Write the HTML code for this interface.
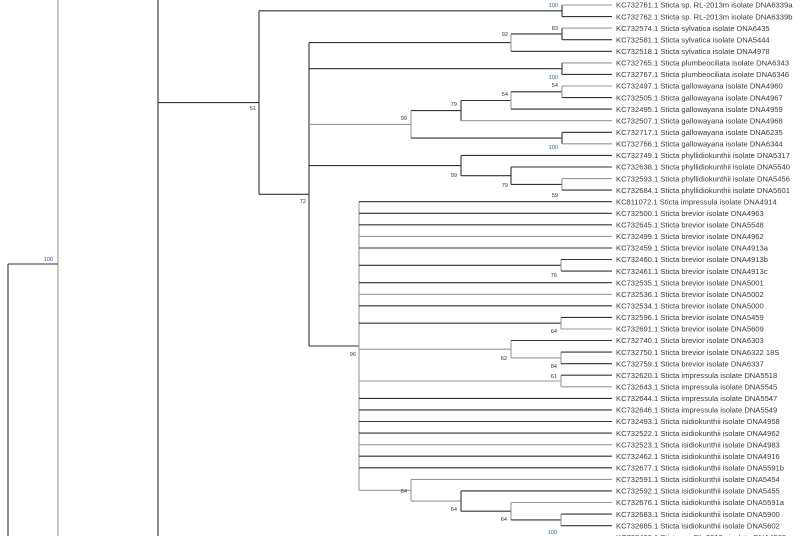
<!DOCTYPE html>
<html><head><meta charset="utf-8"><style>
html,body{margin:0;padding:0;background:#fff;width:812px;height:536px;overflow:hidden}
svg{display:block}
.t{font-family:"Liberation Sans",Arial,sans-serif;font-size:7.6px;fill:#3a3a3a}
.b{font-family:"Liberation Sans",Arial,sans-serif;font-size:5.6px;fill:#333;text-anchor:end}
.bb{font-family:"Liberation Sans",Arial,sans-serif;font-size:5.6px;fill:#2f5f9a;text-anchor:end}
line{stroke:#333;stroke-width:1.1}
.g{stroke:#999}
</style></head><body>
<svg width="812" height="536" viewBox="0 0 812 536" xmlns="http://www.w3.org/2000/svg">
<!-- deep ancestors -->
<line x1="8" y1="264" x2="8" y2="536"/>
<line x1="8" y1="264" x2="58" y2="264"/>
<line class="g" x1="58" y1="0" x2="58" y2="536"/>
<line x1="158" y1="0" x2="158" y2="536"/>
<line x1="158" y1="102.6" x2="259" y2="102.6"/>
<text class="bb" x="53" y="261">100</text>
<!-- N51 -->
<line x1="259" y1="10.8" x2="259" y2="194.3"/>
<line x1="259" y1="10.8" x2="562" y2="10.8"/>
<line x1="259" y1="194.3" x2="309" y2="194.3"/>
<text class="b" x="256" y="110">51</text>
<!-- Na -->
<line x1="562" y1="5" x2="562" y2="16.6"/>
<line class="g" x1="562" y1="5" x2="612" y2="5"/>
<line x1="562" y1="16.6" x2="612" y2="16.6"/>
<text class="bb" x="558" y="7">100</text>
<!-- N72 -->
<line x1="309" y1="42.6" x2="309" y2="346"/>
<line x1="309" y1="42.6" x2="511" y2="42.6"/>
<line x1="309" y1="68.7" x2="562" y2="68.7"/>
<line class="g" x1="309" y1="124.4" x2="411" y2="124.4"/>
<line x1="309" y1="165.6" x2="461" y2="165.6"/>
<line x1="309" y1="346" x2="359" y2="346"/>
<text class="b" x="306" y="203">72</text>
<!-- N92 -->
<line class="g" x1="511" y1="33.9" x2="511" y2="51.3"/>
<line x1="511" y1="33.9" x2="562" y2="33.9"/>
<line x1="511" y1="51.3" x2="612" y2="51.3"/>
<text class="b" x="508" y="36">92</text>
<line x1="562" y1="28.1" x2="562" y2="39.7"/>
<line class="g" x1="562" y1="28.1" x2="612" y2="28.1"/>
<line x1="562" y1="39.7" x2="612" y2="39.7"/>
<text class="b" x="558" y="30">83</text>
<!-- plumbeo -->
<line x1="562" y1="62.9" x2="562" y2="74.4"/>
<line class="g" x1="562" y1="62.9" x2="612" y2="62.9"/>
<line x1="562" y1="74.4" x2="612" y2="74.4"/>
<text class="bb" x="558" y="79">100</text>
<!-- gallowayana -->
<line class="g" x1="411" y1="110.6" x2="411" y2="138.1"/>
<line x1="411" y1="110.6" x2="461" y2="110.6"/>
<line x1="411" y1="138.1" x2="562" y2="138.1"/>
<text class="b" x="407" y="120">99</text>
<line x1="461" y1="100.5" x2="461" y2="120.7"/>
<line x1="461" y1="100.5" x2="511" y2="100.5"/>
<line class="g" x1="461" y1="120.7" x2="612" y2="120.7"/>
<text class="b" x="457" y="106">79</text>
<line class="g" x1="511" y1="91.8" x2="511" y2="109.1"/>
<line x1="511" y1="91.8" x2="562" y2="91.8"/>
<line x1="511" y1="109.1" x2="612" y2="109.1"/>
<text class="b" x="508" y="96">54</text>
<line class="g" x1="562" y1="86" x2="562" y2="97.6"/>
<line class="g" x1="562" y1="86" x2="612" y2="86"/>
<line x1="562" y1="97.6" x2="612" y2="97.6"/>
<text class="b" x="558" y="87">54</text>
<line x1="562" y1="132.3" x2="562" y2="143.8"/>
<line x1="562" y1="132.3" x2="612" y2="132.3"/>
<line class="g" x1="562" y1="143.8" x2="612" y2="143.8"/>
<text class="bb" x="558" y="149">100</text>
<!-- phyllidiokunthii -->
<line x1="461" y1="155.4" x2="461" y2="175.7"/>
<line x1="461" y1="155.4" x2="612" y2="155.4"/>
<line x1="461" y1="175.7" x2="511" y2="175.7"/>
<text class="b" x="457" y="177">99</text>
<line x1="511" y1="167" x2="511" y2="184.4"/>
<line x1="511" y1="167" x2="612" y2="167"/>
<line x1="511" y1="184.4" x2="562" y2="184.4"/>
<text class="b" x="508" y="187">79</text>
<line class="g" x1="562" y1="178.6" x2="562" y2="190.1"/>
<line class="g" x1="562" y1="178.6" x2="612" y2="178.6"/>
<line x1="562" y1="190.1" x2="612" y2="190.1"/>
<text class="b" x="558" y="197">59</text>
<!-- N96 -->
<line class="g" x1="359" y1="201.7" x2="359" y2="490.3"/>
<text class="b" x="356" y="356">96</text>
<line x1="359" y1="201.7" x2="612" y2="201.7"/>
<line x1="359" y1="213.3" x2="612" y2="213.3"/>
<line x1="359" y1="224.8" x2="612" y2="224.8"/>
<line class="g" x1="359" y1="236.4" x2="612" y2="236.4"/>
<line x1="359" y1="248" x2="612" y2="248"/>
<line x1="359" y1="265.3" x2="561" y2="265.3"/>
<line class="g" x1="561" y1="259.5" x2="561" y2="271.1"/>
<line x1="561" y1="259.5" x2="612" y2="259.5"/>
<line x1="561" y1="271.1" x2="612" y2="271.1"/>
<text class="b" x="557" y="277">76</text>
<line x1="359" y1="282.7" x2="612" y2="282.7"/>
<line class="g" x1="359" y1="294.3" x2="612" y2="294.3"/>
<line x1="359" y1="305.8" x2="612" y2="305.8"/>
<line x1="359" y1="323.2" x2="561" y2="323.2"/>
<line class="g" x1="561" y1="317.4" x2="561" y2="329"/>
<line x1="561" y1="317.4" x2="612" y2="317.4"/>
<line class="g" x1="561" y1="329" x2="612" y2="329"/>
<text class="b" x="557" y="333">64</text>
<line class="g" x1="359" y1="349.2" x2="511" y2="349.2"/>
<line class="g" x1="511" y1="340.5" x2="511" y2="357.9"/>
<line x1="511" y1="340.5" x2="612" y2="340.5"/>
<line class="g" x1="511" y1="357.9" x2="561" y2="357.9"/>
<text class="b" x="507" y="360">62</text>
<line class="g" x1="561" y1="352.1" x2="561" y2="363.7"/>
<line x1="561" y1="352.1" x2="612" y2="352.1"/>
<line x1="561" y1="363.7" x2="612" y2="363.7"/>
<text class="b" x="557" y="368">84</text>
<line class="g" x1="359" y1="381" x2="561" y2="381"/>
<line class="g" x1="561" y1="375.2" x2="561" y2="386.8"/>
<line x1="561" y1="375.2" x2="612" y2="375.2"/>
<line class="g" x1="561" y1="386.8" x2="612" y2="386.8"/>
<text class="b" x="557" y="378">61</text>
<line x1="359" y1="398.4" x2="612" y2="398.4"/>
<line x1="359" y1="409.9" x2="612" y2="409.9"/>
<line x1="359" y1="421.5" x2="612" y2="421.5"/>
<line x1="359" y1="433.1" x2="612" y2="433.1"/>
<line class="g" x1="359" y1="444.7" x2="612" y2="444.7"/>
<line x1="359" y1="456.2" x2="612" y2="456.2"/>
<line x1="359" y1="467.8" x2="612" y2="467.8"/>
<line class="g" x1="359" y1="490.3" x2="411" y2="490.3"/>
<line class="g" x1="411" y1="479.4" x2="411" y2="501.1"/>
<line class="g" x1="411" y1="479.4" x2="612" y2="479.4"/>
<line class="g" x1="411" y1="501.1" x2="461" y2="501.1"/>
<text class="b" x="407" y="493">64</text>
<line x1="461" y1="490.9" x2="461" y2="511.2"/>
<line x1="461" y1="490.9" x2="612" y2="490.9"/>
<line x1="461" y1="511.2" x2="511" y2="511.2"/>
<text class="b" x="457" y="511">64</text>
<line class="g" x1="511" y1="502.5" x2="511" y2="519.9"/>
<line class="g" x1="511" y1="502.5" x2="612" y2="502.5"/>
<line x1="511" y1="519.9" x2="561" y2="519.9"/>
<text class="b" x="507" y="521">64</text>
<line class="g" x1="561" y1="514.1" x2="561" y2="525.7"/>
<line x1="561" y1="514.1" x2="612" y2="514.1"/>
<line x1="561" y1="525.7" x2="612" y2="525.7"/>
<text class="bb" x="557" y="534">100</text>
<line x1="461" y1="536.5" x2="612" y2="536.5"/>

<g class="t">
<text x="616" y="7.7">KC732761.1 Sticta sp. RL-2013m isolate DNA6339a</text>
<text x="616" y="19.3">KC732762.1 Sticta sp. RL-2013m isolate DNA6339b</text>
<text x="616" y="30.8">KC732574.1 Sticta sylvatica isolate DNA6435</text>
<text x="616" y="42.4">KC732581.1 Sticta sylvatica isolate DNA5444</text>
<text x="616" y="54">KC732518.1 Sticta sylvatica isolate DNA4978</text>
<text x="616" y="65.6">KC732765.1 Sticta plumbeociliata isolate DNA6343</text>
<text x="616" y="77.1">KC732767.1 Sticta plumbeociliata isolate DNA6346</text>
<text x="616" y="88.7">KC732497.1 Sticta gallowayana isolate DNA4960</text>
<text x="616" y="100.3">KC732505.1 Sticta gallowayana isolate DNA4967</text>
<text x="616" y="111.8">KC732495.1 Sticta gallowayana isolate DNA4959</text>
<text x="616" y="123.4">KC732507.1 Sticta gallowayana isolate DNA4968</text>
<text x="616" y="135">KC732717.1 Sticta gallowayana isolate DNA6235</text>
<text x="616" y="146.5">KC732766.1 Sticta gallowayana isolate DNA6344</text>
<text x="616" y="158.1">KC732749.1 Sticta phyllidiokunthii isolate DNA5317</text>
<text x="616" y="169.7">KC732638.1 Sticta phyllidiokunthii isolate DNA5540</text>
<text x="616" y="181.3">KC732593.1 Sticta phyllidiokunthii isolate DNA5456</text>
<text x="616" y="192.8">KC732684.1 Sticta phyllidiokunthii isolate DNA5601</text>
<text x="616" y="204.4">KC811072.1 Sticta impressula isolate DNA4914</text>
<text x="616" y="216">KC732500.1 Sticta brevior isolate DNA4963</text>
<text x="616" y="227.5">KC732645.1 Sticta brevior isolate DNA5548</text>
<text x="616" y="239.1">KC732499.1 Sticta brevior isolate DNA4962</text>
<text x="616" y="250.7">KC732459.1 Sticta brevior isolate DNA4913a</text>
<text x="616" y="262.2">KC732460.1 Sticta brevior isolate DNA4913b</text>
<text x="616" y="273.8">KC732461.1 Sticta brevior isolate DNA4913c</text>
<text x="616" y="285.4">KC732535.1 Sticta brevior isolate DNA5001</text>
<text x="616" y="297">KC732536.1 Sticta brevior isolate DNA5002</text>
<text x="616" y="308.5">KC732534.1 Sticta brevior isolate DNA5000</text>
<text x="616" y="320.1">KC732596.1 Sticta brevior isolate DNA5459</text>
<text x="616" y="331.7">KC732691.1 Sticta brevior isolate DNA5609</text>
<text x="616" y="343.2">KC732740.1 Sticta brevior isolate DNA6303</text>
<text x="616" y="354.8">KC732750.1 Sticta brevior isolate DNA6322 18S</text>
<text x="616" y="366.4">KC732759.1 Sticta brevior isolate DNA6337</text>
<text x="616" y="377.9">KC732620.1 Sticta impressula isolate DNA5518</text>
<text x="616" y="389.5">KC732643.1 Sticta impressula isolate DNA5545</text>
<text x="616" y="401.1">KC732644.1 Sticta impressula isolate DNA5547</text>
<text x="616" y="412.6">KC732646.1 Sticta impressula isolate DNA5549</text>
<text x="616" y="424.2">KC732493.1 Sticta isidiokunthii isolate DNA4958</text>
<text x="616" y="435.8">KC732522.1 Sticta isidiokunthii isolate DNA4962</text>
<text x="616" y="447.4">KC732523.1 Sticta isidiokunthii isolate DNA4983</text>
<text x="616" y="458.9">KC732462.1 Sticta isidiokunthii isolate DNA4916</text>
<text x="616" y="470.5">KC732677.1 Sticta isidiokunthii isolate DNA5591b</text>
<text x="616" y="482.1">KC732591.1 Sticta isidiokunthii isolate DNA5454</text>
<text x="616" y="493.6">KC732592.1 Sticta isidiokunthii isolate DNA5455</text>
<text x="616" y="505.2">KC732676.1 Sticta isidiokunthii isolate DNA5591a</text>
<text x="616" y="516.8">KC732683.1 Sticta isidiokunthii isolate DNA5900</text>
<text x="616" y="528.4">KC732685.1 Sticta isidiokunthii isolate DNA5602</text>
<text x="616" y="539.9">KC732498.1 Sticta sp. RL-2013n isolate DNA4965</text>
</g>
</svg>
</body></html>
